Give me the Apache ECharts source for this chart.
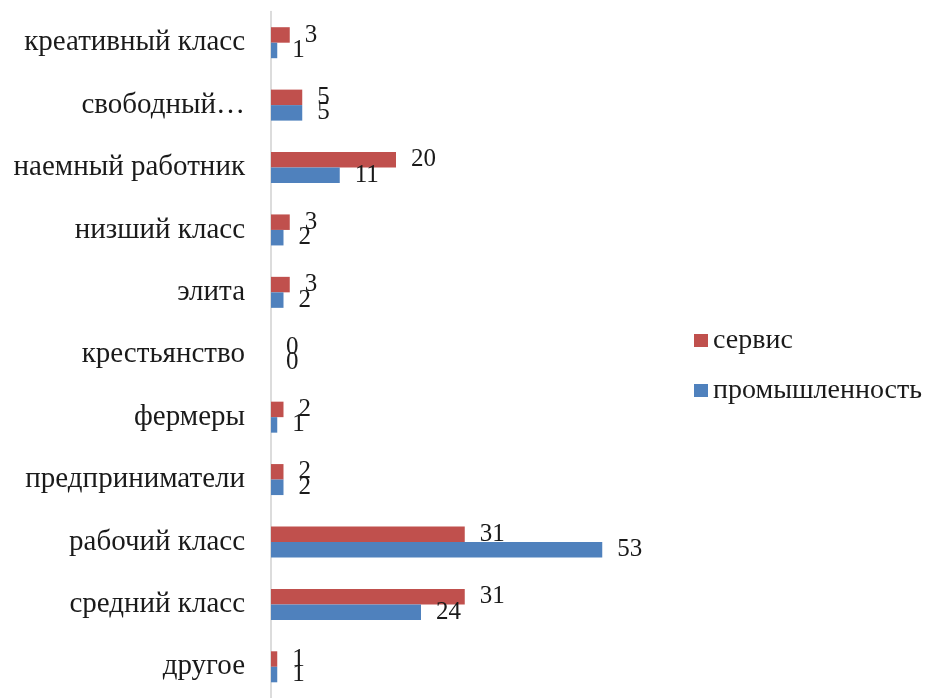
<!DOCTYPE html>
<html>
<head>
<meta charset="utf-8">
<script src="https://cdn.jsdelivr.net/npm/echarts@6/dist/echarts.min.js"></script>
<style>html,body{margin:0;padding:0;background:#fff;}#c{width:931px;height:698px;}</style>
</head>
<body>
<div id="c"></div>
<script>
var categories = ['креативный класс','свободный…','наемный работник','низший класс','элита','крестьянство','фермеры','предприниматели','рабочий класс','средний класс','другое'];
var serviceValues = [3,5,20,3,3,0,2,2,31,31,1];
var industryValues = [1,5,11,2,2,0,1,2,53,24,1];
var seriesNames = ['сервис','промышленность'];

var chart = echarts.init(document.getElementById('c'));
var font = '"Liberation Serif","Times New Roman",serif';
var lbl = {show:true, position:'right', distance:15, fontFamily:font, fontSize:25, color:'#1a1a1a'};
chart.setOption({
  animation:false,
  grid:{left:271, right:285, top:11.5, bottom:-8},
  legend:{orient:'vertical', left:689, top:321, itemWidth:14, itemHeight:13, itemGap:21,
    data:seriesNames, icon:'rect',
    textStyle:{fontFamily:font, fontSize:28, color:'#1a1a1a', lineHeight:29}},
  xAxis:{type:'value', min:0, max:60, show:false},
  yAxis:{type:'category', data:categories, inverse:true,
    axisLine:{show:true, lineStyle:{color:'#d0d0d0', width:1.5}},
    axisTick:{show:false},
    axisLabel:{fontFamily:font, fontSize:29, color:'#1a1a1a', margin:26}},
  series:[
    {name:'сервис', type:'bar', data:serviceValues, barWidth:15.5, barGap:'0%', barCategoryGap:'50%',
      itemStyle:{color:'#C0504D'}, label:lbl},
    {name:'промышленность', type:'bar', data:industryValues, barWidth:15.5, barGap:'0%',
      itemStyle:{color:'#4F81BD'}, label:lbl}
  ]
});
</script>
</body>
</html>
